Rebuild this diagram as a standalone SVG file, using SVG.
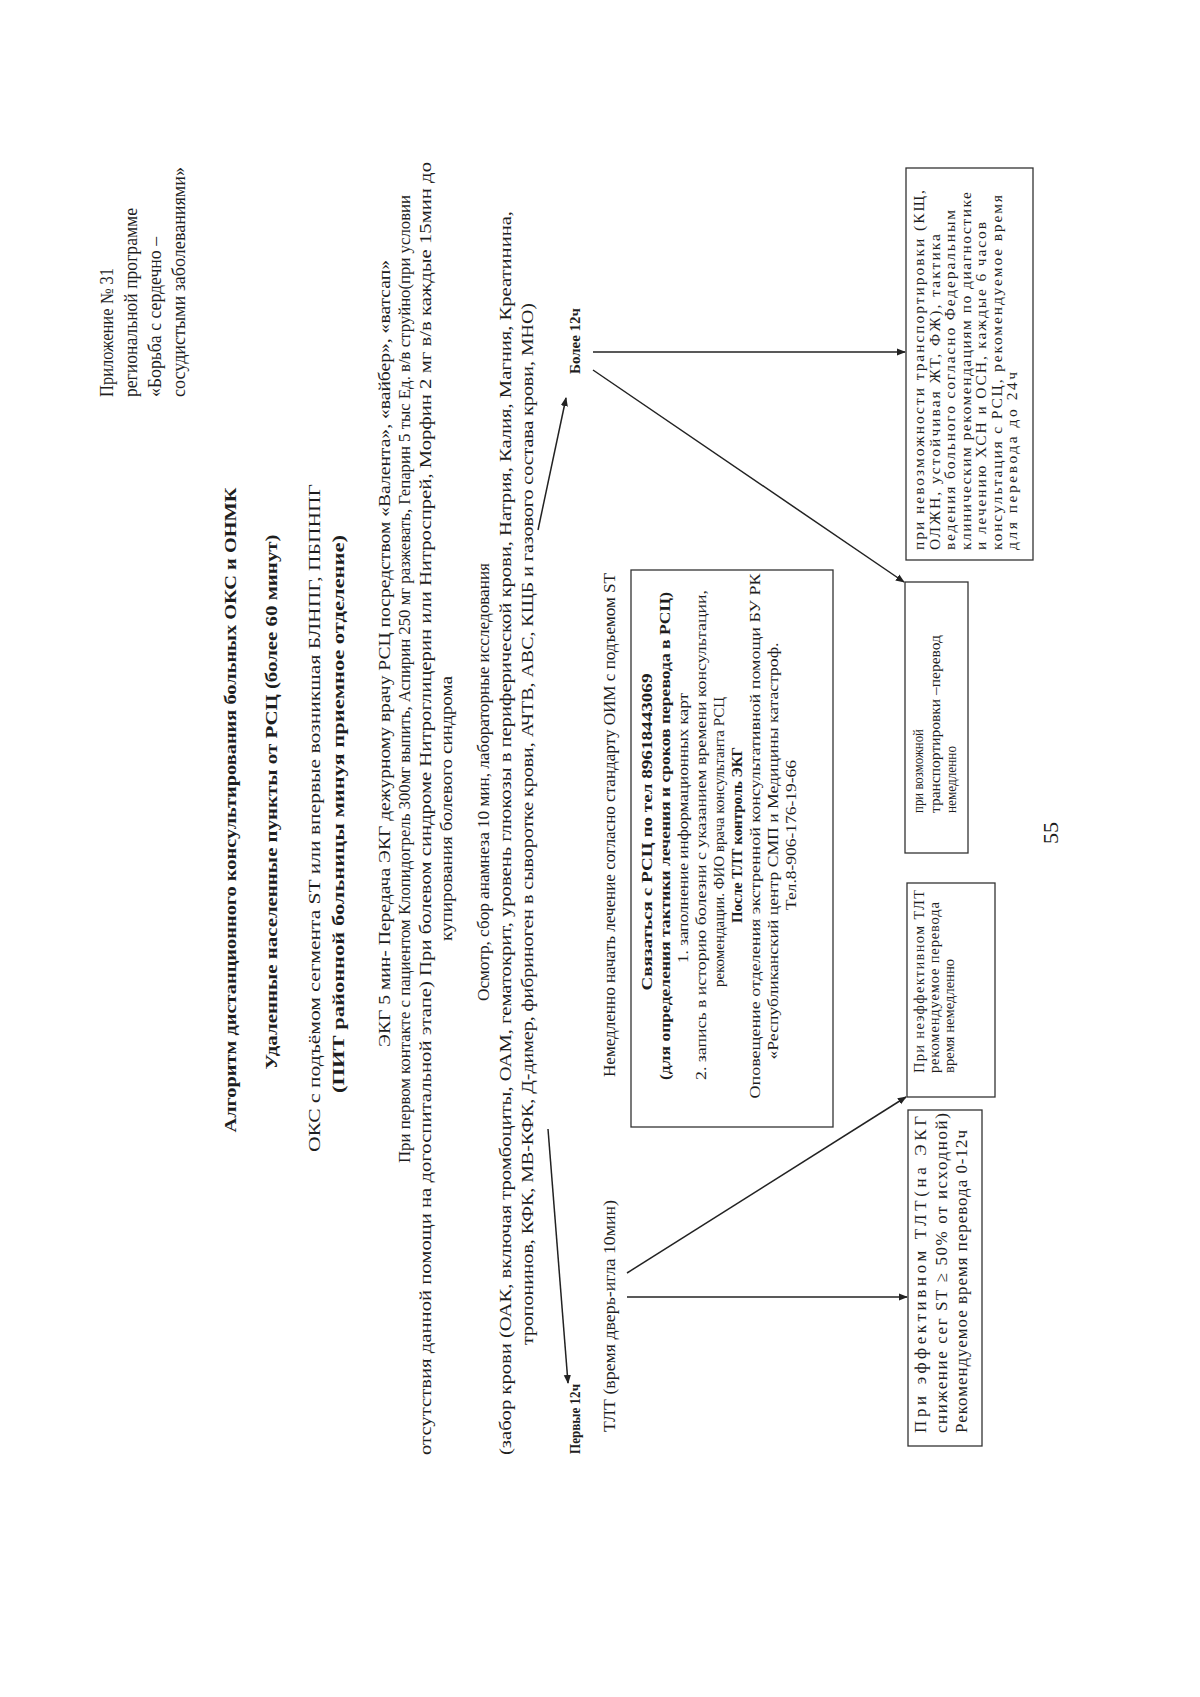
<svg xmlns="http://www.w3.org/2000/svg" width="1200" height="1697" viewBox="0 0 1200 1697">
<defs>
<marker id="ah" viewBox="0 0 10 10" refX="9" refY="5" markerWidth="9" markerHeight="9" orient="auto" markerUnits="userSpaceOnUse">
<path d="M0,1 L10,5 L0,9 Z" fill="#222"/>
</marker>
<style>
text{font-family:"Liberation Serif","Times New Roman",serif;fill:#1e1e1e;}
.h{font-size:18px;}
.b{font-weight:bold;font-size:17px;}
.p{font-size:17px;}
.bx{font-size:15.5px;}
.b1{font-size:17px;}
.b2{font-size:14.5px;}
.b3{font-size:14.5px;}
.b4{font-size:15.5px;}
.lb{font-weight:bold;font-size:14.5px;}
.box{fill:none;stroke:#333;stroke-width:1.3;}
.ln{stroke:#222;stroke-width:1.5;fill:none;}
</style>
</defs>
<rect x="0" y="0" width="1200" height="1697" fill="#ffffff"/>

<g id="header">
<text class="h" x="113" y="397" transform="rotate(-90 113 397)" textLength="129" lengthAdjust="spacingAndGlyphs">Приложение № 31</text>
<text class="h" x="137" y="397" transform="rotate(-90 137 397)" textLength="189" lengthAdjust="spacingAndGlyphs">региональной программе</text>
<text class="h" x="161" y="397" transform="rotate(-90 161 397)" textLength="160" lengthAdjust="spacingAndGlyphs">«Борьба с сердечно –</text>
<text class="h" x="185" y="397" transform="rotate(-90 185 397)" textLength="230" lengthAdjust="spacingAndGlyphs">сосудистыми заболеваниями»</text>
</g>

<g id="title">
<text class="b" x="236" y="810" text-anchor="middle" transform="rotate(-90 236 810)" textLength="645" lengthAdjust="spacingAndGlyphs">Алгоритм дистанционного консультирования больных ОКС и ОНМК</text>
<text class="b" x="277" y="802" text-anchor="middle" transform="rotate(-90 277 802)" textLength="535" lengthAdjust="spacingAndGlyphs">Удаленные населенные пункты от РСЦ (более 60 минут)</text>
</g>

<g id="oks">
<text class="p" x="320" y="818" text-anchor="middle" transform="rotate(-90 320 818)" textLength="668" lengthAdjust="spacingAndGlyphs">ОКС с подъёмом сегмента ST или впервые возникшая БЛНПГ, ПБПНПГ</text>
<text class="b" x="344" y="814" text-anchor="middle" transform="rotate(-90 344 814)" textLength="558" lengthAdjust="spacingAndGlyphs">(ПИТ районной больницы минуя приемное отделение)</text>
</g>

<g id="ekg">
<text class="p" x="390" y="1047" transform="rotate(-90 390 1047)" textLength="787" lengthAdjust="spacingAndGlyphs">ЭКГ 5 мин- Передача ЭКГ дежурному врачу РСЦ посредством «Валента», «вайбер», «ватсап»</text>
<text class="p" x="410" y="1163" transform="rotate(-90 410 1163)" textLength="968" lengthAdjust="spacingAndGlyphs">При первом контакте с пациентом Клопидогрель 300мг выпить, Аспирин 250 мг разжевать, Гепарин 5 тыс Ед. в/в струйно(при условии</text>
<text class="p" x="431" y="1455" transform="rotate(-90 431 1455)" textLength="1293" lengthAdjust="spacingAndGlyphs">отсутствия данной помощи на догоспитальной этапе) При болевом синдроме Нитроглицерин или Нитроспрей, Морфин 2 мг в/в каждые 15мин до</text>
<text class="p" x="452" y="941" transform="rotate(-90 452 941)" textLength="265" lengthAdjust="spacingAndGlyphs">купирования болевого синдрома</text>
</g>

<g id="osmotr">
<text class="p" x="489" y="1001" transform="rotate(-90 489 1001)" textLength="438" lengthAdjust="spacingAndGlyphs">Осмотр, сбор анамнеза 10 мин, лабораторные исследования</text>
<text class="p" x="511" y="1455" transform="rotate(-90 511 1455)" textLength="1244" lengthAdjust="spacingAndGlyphs">(забор крови (ОАК, включая тромбоциты, ОАМ, гематокрит, уровень глюкозы в периферической крови, Натрия, Калия, Магния, Креатинина,</text>
<text class="p" x="533" y="1345" transform="rotate(-90 533 1345)" textLength="1042" lengthAdjust="spacingAndGlyphs">тропонинов, КФК, МВ-КФК, Д-димер, фибриноген в сыворотке крови, АЧТВ, АВС, КЩБ и газового состава крови, МНО)</text>
</g>

<g id="first12">
<text class="lb" x="580" y="1454" transform="rotate(-90 580 1454)" textLength="70" lengthAdjust="spacingAndGlyphs">Первые 12ч</text>
</g>

<g id="more12">
<text class="lb" x="580" y="374" transform="rotate(-90 580 374)" textLength="66" lengthAdjust="spacingAndGlyphs">Более 12ч</text>
</g>

<g id="immediate">
<text class="p" x="615" y="1077" transform="rotate(-90 615 1077)" textLength="504" lengthAdjust="spacingAndGlyphs">Немедленно начать лечение согласно стандарту ОИМ с подъемом ST</text>
</g>

<g id="tlt">
<text class="p" x="615" y="1432" transform="rotate(-90 615 1432)" textLength="232" lengthAdjust="spacingAndGlyphs">ТЛТ (время дверь-игла 10мин)</text>
</g>

<g id="contact">
<rect class="box" x="631" y="570" width="202" height="557"/>
<text class="bx" font-weight="bold" x="652" y="832" text-anchor="middle" transform="rotate(-90 652 832)" textLength="317" lengthAdjust="spacingAndGlyphs">Связаться с РСЦ по тел 89618443069</text>
<text class="bx" font-weight="bold" x="670" y="836" text-anchor="middle" transform="rotate(-90 670 836)" textLength="488" lengthAdjust="spacingAndGlyphs">(для определения тактики лечения и сроков перевода в РСЦ)</text>
<text class="bx" x="688" y="828" text-anchor="middle" transform="rotate(-90 688 828)" textLength="270" lengthAdjust="spacingAndGlyphs">1. заполнение информационных карт</text>
<text class="bx" x="706" y="835" text-anchor="middle" transform="rotate(-90 706 835)" textLength="490" lengthAdjust="spacingAndGlyphs">2. запись в историю болезни с указанием времени консультации,</text>
<text class="bx" x="724" y="842" text-anchor="middle" transform="rotate(-90 724 842)" textLength="290" lengthAdjust="spacingAndGlyphs">рекомендации. ФИО врача консультанта РСЦ</text>
<text class="bx" font-weight="bold" x="742" y="835" text-anchor="middle" transform="rotate(-90 742 835)" textLength="176" lengthAdjust="spacingAndGlyphs">После ТЛТ контроль ЭКГ</text>
<text class="bx" x="760" y="836" text-anchor="middle" transform="rotate(-90 760 836)" textLength="525" lengthAdjust="spacingAndGlyphs">Оповещение отделения экстренной консультативной помощи БУ РК</text>
<text class="bx" x="778" y="851" text-anchor="middle" transform="rotate(-90 778 851)" textLength="417" lengthAdjust="spacingAndGlyphs">«Республиканский центр СМП и Медицины катастроф.</text>
<text class="bx" x="796" y="835" text-anchor="middle" transform="rotate(-90 796 835)" textLength="150" lengthAdjust="spacingAndGlyphs">Тел.8-906-176-19-66</text>
</g>

<g id="effective">
<rect class="box" x="908" y="1110" width="74" height="336"/>
<text class="b1" x="926" y="1433" transform="rotate(-90 926 1433)" textLength="317" lengthAdjust="spacing">При эффективном   ТЛТ(на ЭКГ</text>
<text class="b1" x="947" y="1433" transform="rotate(-90 947 1433)" textLength="320" lengthAdjust="spacing">снижение сег ST ≥ 50% от исходной)</text>
<text class="b1" x="967" y="1433" transform="rotate(-90 967 1433)" textLength="303" lengthAdjust="spacing">Рекомендуемое время перевода 0-12ч</text>
</g>

<g id="ineffective">
<rect class="box" x="907" y="883" width="88" height="214"/>
<text class="b2" x="924" y="1073" transform="rotate(-90 924 1073)" textLength="183" lengthAdjust="spacing">При неэффективном ТЛТ</text>
<text class="b2" x="939" y="1073" transform="rotate(-90 939 1073)" textLength="171" lengthAdjust="spacing">рекомендуемое перевода</text>
<text class="b2" x="954" y="1073" transform="rotate(-90 954 1073)" textLength="114" lengthAdjust="spacingAndGlyphs">время немедленно</text>
</g>

<g id="possible">
<rect class="box" x="905" y="582" width="63" height="271"/>
<text class="b3" x="923" y="813" transform="rotate(-90 923 813)" textLength="84" lengthAdjust="spacingAndGlyphs">при возможной</text>
<text class="b3" x="940" y="813" transform="rotate(-90 940 813)" textLength="178" lengthAdjust="spacingAndGlyphs">транспортировки –перевод</text>
<text class="b3" x="956" y="813" transform="rotate(-90 956 813)" textLength="67" lengthAdjust="spacingAndGlyphs">немедленно</text>
</g>

<g id="impossible">
<rect class="box" x="906" y="168" width="127" height="392"/>
<text class="b4" x="924" y="550" transform="rotate(-90 924 550)" textLength="360" lengthAdjust="spacing">при невозможности транспортировки (КЩ,</text>
<text class="b4" x="940" y="550" transform="rotate(-90 940 550)" textLength="316" lengthAdjust="spacing">ОЛЖН, устойчивая ЖТ, ФЖ),  тактика</text>
<text class="b4" x="955" y="550" transform="rotate(-90 955 550)" textLength="340" lengthAdjust="spacing">ведения больного согласно Федеральным</text>
<text class="b4" x="971" y="550" transform="rotate(-90 971 550)" textLength="358" lengthAdjust="spacing">клиническим рекомендациям по диагностике</text>
<text class="b4" x="986" y="550" transform="rotate(-90 986 550)" textLength="328" lengthAdjust="spacing">и лечению ХСН и ОСН, каждые 6 часов</text>
<text class="b4" x="1002" y="550" transform="rotate(-90 1002 550)" textLength="355" lengthAdjust="spacing">консультация с РСЦ, рекомендуемое время</text>
<text class="b4" x="1017" y="550" transform="rotate(-90 1017 550)" textLength="178" lengthAdjust="spacing">для перевода до 24ч</text>
</g>

<g id="page-number">
<text x="1058" y="833" text-anchor="middle" font-size="22" transform="rotate(-90 1058 833)">55</text>
</g>

<g id="connectors">
<line class="ln" x1="548" y1="1129" x2="568" y2="1383" marker-end="url(#ah)"/>
<line class="ln" x1="538" y1="530" x2="566" y2="398" marker-end="url(#ah)"/>
<line class="ln" x1="593" y1="352" x2="905" y2="352" marker-end="url(#ah)"/>
<line class="ln" x1="593" y1="370" x2="904" y2="582" marker-end="url(#ah)"/>
<line class="ln" x1="627" y1="1297" x2="907" y2="1297" marker-end="url(#ah)"/>
<line class="ln" x1="627" y1="1273" x2="906" y2="1097" marker-end="url(#ah)"/>
</g>
</svg>
